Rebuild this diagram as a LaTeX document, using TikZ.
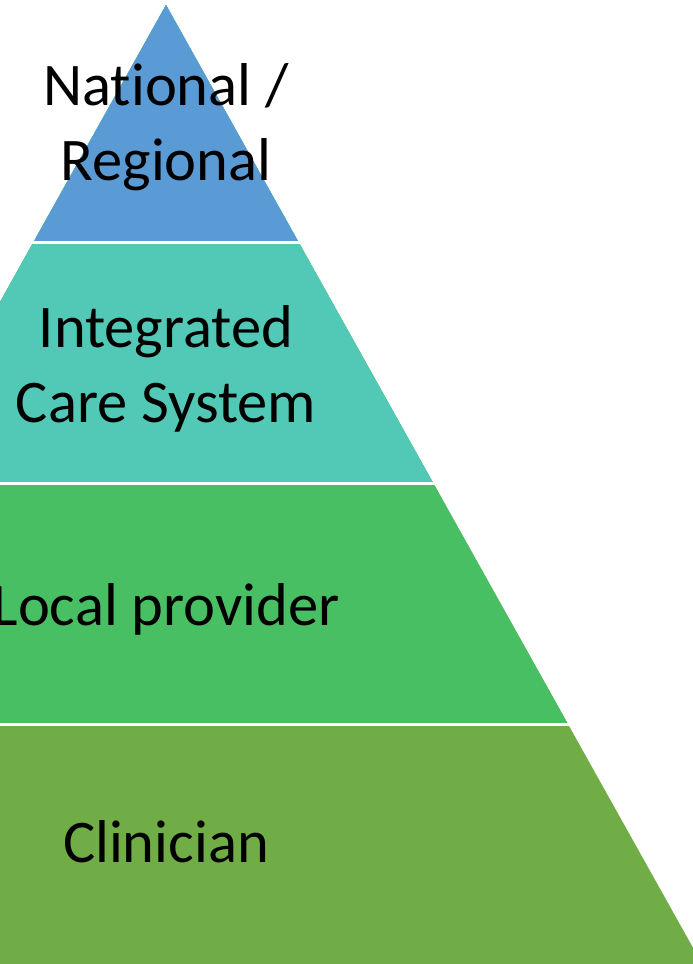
\documentclass[tikz,border=0pt]{standalone}
\usepackage{fontspec}
\setmainfont{Carlito}[Ligatures=NoCommon]
\definecolor{natblue}{RGB}{91,155,213}
\definecolor{icsteal}{RGB}{82,201,183}
\definecolor{locgreen}{RGB}{72,191,99}
\definecolor{clinolive}{RGB}{112,173,71}
\tikzset{level/.style={font=\fontsize{60.5}{74.5}\selectfont,align=center,inner sep=0pt,anchor=base}}

\begin{document}
\begin{tikzpicture}[x=1pt,y=-1pt]
		\useasboundingbox (0,0) rectangle (693,964);
		\clip (0,0) rectangle (693,964);
		% layers, from the base up
		\foreach \yb/\col in {964/clinolive,724.5/locgreen,483.5/icsteal,242.5/natblue}
			\fill[\col] (166,5) -- ({166-0.559*(\yb-5)},\yb) -- ({166+0.559*(\yb-5)},\yb) -- cycle;
		\foreach \yb in {242.5,483.5,724.5}
			\draw[white,line width=2.5pt] (-400,\yb) -- (700,\yb);
		% base anchor = baseline of the last line
		\node[level] (nat) at (166,180) {National /\\Regional};
		\node[level] (ics) at (166,422) {Integrated\\Care System};
		\node[level] (loc) at (166,625) {Local provider};
		\node[level] (clin) at (166,862) {Clinician};
	\end{tikzpicture}
\end{document}
